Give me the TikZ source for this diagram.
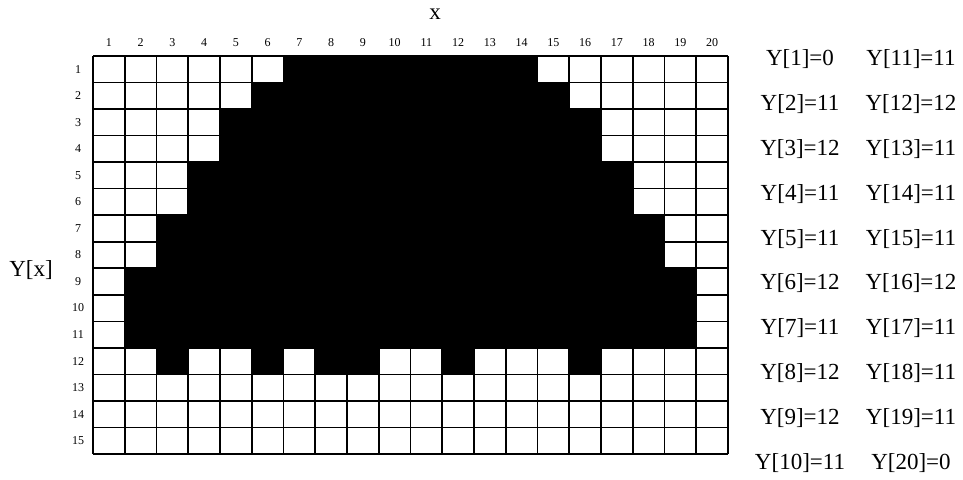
\documentclass[tikz,border=0pt]{standalone}
\usepackage{fontspec}
\setmainfont{Liberation Serif}
\begin{document}
\begin{tikzpicture}[x=1pt,y=-1pt,
  gridline/.style={line width=1.6pt,black},
  blk/.style={fill=black},
  colnum/.style={font=\fontsize{12}{12}\selectfont,inner sep=0pt},
  rownum/.style={font=\fontsize{12}{12}\selectfont,inner sep=0pt},
  ylab/.style={font=\fontsize{23}{23}\selectfont,inner sep=0pt},
  axlab/.style={font=\fontsize{23}{23}\selectfont,inner sep=0pt}]
\useasboundingbox[fill=white] (0,0) rectangle (963,479);
\def\gx{93}\def\gy{56}\def\cw{31.75}\def\ch{26.53}
% black cells: row / first col / last col
\foreach \r/\a/\b in {1/7/14,2/6/15,3/5/16,4/5/16,5/4/17,6/4/17,7/3/18,8/3/18,9/2/19,10/2/19,11/2/19,12/3/3,12/6/6,12/8/9,12/12/12,12/16/16}{
  \fill[blk] ({\gx+(\a-1)*\cw},{\gy+(\r-1)*\ch}) rectangle ({\gx+\b*\cw},{\gy+\r*\ch});
}
% grid lines
\foreach \i in {0,...,20}{
  \draw[gridline] ({\gx+\i*\cw},\gy) -- ({\gx+\i*\cw},{\gy+15*\ch});
}
\foreach \j in {0,...,15}{
  \draw[gridline] (\gx,{\gy+\j*\ch}) -- ({\gx+20*\cw},{\gy+\j*\ch});
}
% column numbers
\foreach \i in {1,...,20}{
  \node[colnum] (c\i) at ({\gx+(\i-0.5)*\cw},43) {\i};
}
% row numbers
\foreach \j in {1,...,15}{
  \node[rownum] (r\j) at (78,{\gy+(\j-0.5)*\ch}) {\j};
}
\node[axlab] (xl) at (435,14) {x};
\node[axlab] (yl) at (31,270) {Y[x]};
% Y values
\foreach \k/\v [count=\n from 0] in {1/0,2/11,3/12,4/11,5/11,6/12,7/11,8/12,9/12,10/11}{
  \node[ylab] (ya\k) at (800,{59+\n*44.9}) {Y[\k]=\v};
}
\foreach \k/\v [count=\n from 0] in {11/11,12/12,13/11,14/11,15/11,16/12,17/11,18/11,19/11,20/0}{
  \node[ylab] (yb\k) at (911,{59+\n*44.9}) {Y[\k]=\v};
}
\end{tikzpicture}
\end{document}
